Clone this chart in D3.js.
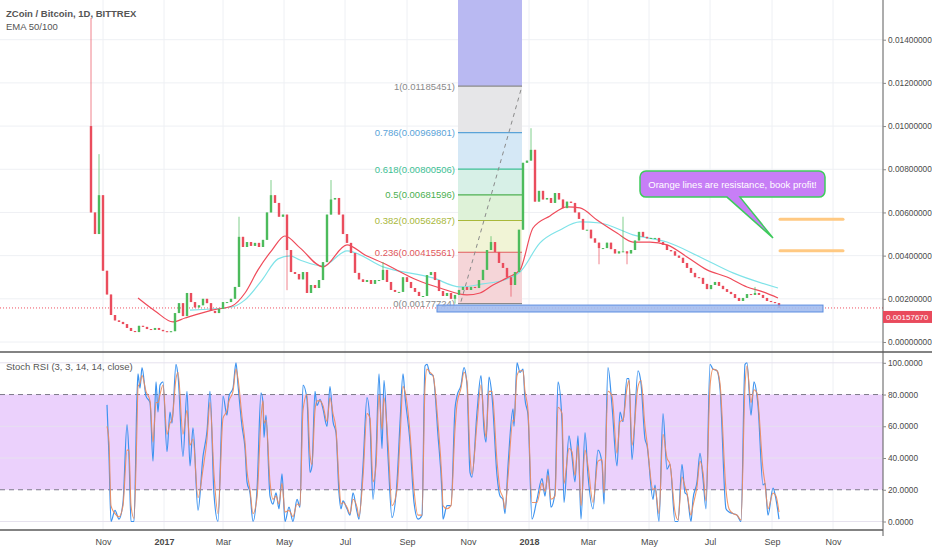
<!DOCTYPE html>
<html lang="en">
<head>
<meta charset="utf-8" />
<title>ZCoin / Bitcoin, 1D, BITTREX</title>
<script src="https://cdn.jsdelivr.net/npm/d3@7"></script>
<style>
body { margin: 0; background: #fff; }
text { font-family: "Liberation Sans", Arial, sans-serif; fill: #4a4a4a; }
</style>
</head>
<body>
<script>

// all days are counted from 2016-11-01
// candles: one every 4 days, open = previous close
var candleStartDay = -12;
var candleStep = 4;
var firstOpen = 0.0100;
var closes = [
  0.0060, 0.0050, 0.0068, 0.0033, 0.0022, 0.00125, 0.0010, 0.00093, 0.00083, 0.00065,
  0.00051, 0.00046, 0.00075, 0.0007, 0.0006, 0.00056, 0.00065, 0.00056, 0.0005, 0.00046,
  0.0005, 0.00134, 0.0018, 0.0012, 0.00227, 0.00185, 0.0016, 0.0017, 0.002, 0.0018,
  0.00144, 0.00134, 0.00153, 0.00185, 0.00185, 0.002, 0.00255, 0.00487, 0.0044, 0.00463,
  0.00445, 0.00459, 0.0044, 0.00473, 0.006, 0.0068, 0.00644, 0.0058, 0.0059, 0.00426,
  0.00324, 0.00315, 0.0029, 0.00324, 0.00227, 0.00264, 0.0025, 0.00287, 0.0037, 0.0059,
  0.0066, 0.00667, 0.0059, 0.005, 0.00459, 0.00412, 0.0032, 0.0029, 0.00278, 0.00287,
  0.00269, 0.00287, 0.00287, 0.00334, 0.00278, 0.00241, 0.00232, 0.00232, 0.003, 0.00278,
  0.0025, 0.00232, 0.00213, 0.00213, 0.0031, 0.00324, 0.00287, 0.00236, 0.00213, 0.00227,
  0.002, 0.00218, 0.00241, 0.00255, 0.00241, 0.00255, 0.0025, 0.00287, 0.00334, 0.00426,
  0.00463, 0.00417, 0.00366, 0.00343, 0.003, 0.00264, 0.00324, 0.0052, 0.0083, 0.0084,
  0.0089, 0.0065, 0.007, 0.0066, 0.00667, 0.00644, 0.0069, 0.0066, 0.0062, 0.0065,
  0.00644, 0.006, 0.0057, 0.0052, 0.0052, 0.0048, 0.0046, 0.00435, 0.00435, 0.0046,
  0.0043, 0.0041, 0.0042, 0.0042, 0.0041, 0.00426, 0.0047, 0.0051, 0.00487, 0.0048,
  0.00482, 0.00482, 0.00463, 0.0045, 0.00426, 0.0042, 0.004, 0.0039, 0.00366, 0.00343,
  0.0032, 0.003, 0.00297, 0.00269, 0.00245, 0.00264, 0.00278, 0.0026, 0.00245, 0.00232,
  0.00222, 0.00204, 0.0019, 0.00204, 0.00222, 0.00218, 0.00227, 0.00218, 0.00204, 0.0019,
  0.00185, 0.0018, 0.0015767
];
// long wicks that stick out of the bodies
var wickDays = [-12, -4, 136, 168, 184, 228, 280, 352, 388, 408, 428, 496, 520, 524, 652];
var wickVals = [0.0150, 0.0087, 0.0058, 0.0075, 0.0024, 0.0075, 0.0037, 0.00178, 0.0049, 0.0021, 0.0099, 0.0036, 0.0058, 0.0036, 0.00255];

var ema50Days = [35, 52, 70, 82, 109, 129, 142, 155, 169, 182, 197, 220, 244, 262, 280, 314, 337, 364, 377, 390,
  404, 417, 430, 447, 464, 477, 494, 514, 530, 547, 564, 584, 604, 624, 644, 660, 675];
var ema50Vals = [0.00204, 0.00144, 0.00093, 0.00111, 0.00148, 0.00167, 0.00227, 0.00334, 0.00426, 0.00491,
  0.00436, 0.00348, 0.00450, 0.00403, 0.00366, 0.00287, 0.0025, 0.00218, 0.00227, 0.00264,
  0.00297, 0.00334, 0.00528, 0.00584, 0.00626, 0.00621, 0.00565, 0.00505, 0.00463, 0.00463,
  0.0045, 0.00394, 0.00334, 0.00301, 0.00255, 0.00232, 0.00204];
var ema100Days = [87, 129, 142, 159, 175, 187, 197, 220, 244, 280, 330, 357, 380, 404, 417, 437, 457, 477, 497,
  530, 564, 597, 630, 675];
var ema100Vals = [0.00148, 0.00162, 0.00195, 0.00287, 0.00385, 0.00399, 0.0038, 0.00352, 0.00422, 0.00348,
  0.00297, 0.00255, 0.00269, 0.00292, 0.00324, 0.00459, 0.00519, 0.00556, 0.00551,
  0.00496, 0.00463, 0.00394, 0.0032, 0.0025];

// Stoch RSI turning points
var rsiDays = [4, 6, 8, 12, 16, 20, 24, 26, 28, 31, 34, 35, 37, 39, 43, 47, 50, 53, 55, 57,
  60, 64, 67, 69, 73, 75, 80, 84, 87, 90, 95, 100, 104, 107, 111, 115, 120, 124, 126, 130,
  133, 135, 139, 142, 144, 147, 150, 154, 158, 160, 161, 163, 167, 170, 173, 176, 179, 182, 186, 190,
  194, 197, 200, 204, 207, 209, 212, 214, 217, 220, 224, 227, 230, 233, 236, 238, 240, 244, 247, 250,
  254, 256, 260, 264, 267, 270, 273, 276, 279, 281, 285, 289, 294, 297, 300, 302, 307, 311, 315, 319,
  322, 324, 327, 330, 335, 339, 340, 344, 348, 352, 354, 358, 361, 364, 367, 369, 374, 378, 381, 383,
  386, 389, 394, 397, 400, 402, 405, 410, 411, 414, 417, 420, 422, 425, 429, 434, 439, 442, 445, 448,
  452, 455, 459, 461, 466, 469, 472, 475, 478, 482, 485, 490, 495, 499, 501, 505, 509, 514, 517, 520,
  524, 526, 529, 535, 538, 542, 544, 550, 552, 556, 560, 564, 567, 572, 575, 579, 582, 584, 588, 590,
  594, 597, 600, 603, 607, 610, 614, 617, 623, 626, 630, 634, 638, 642, 644, 648, 651, 654, 655, 660,
  662, 665, 670, 673, 676];
var rsiK = [73.5, 41, 0, 7, 1.5, 12, 61, 41, 0, 0, 79, 93, 84, 97, 79, 75, 38, 88, 69, 86,
  88, 44, 69, 62, 99, 92, 41, 82, 35, 59, 7, 41, 57, 82, 17, 0, 79, 67, 79, 84,
  100, 86, 60, 46, 25, 18, 0, 20, 81, 75, 53, 67, 16, 11, 18, 8, 30, 0, 9, 0,
  14, 9, 86, 77, 31, 35, 82, 73, 77, 71, 60, 85, 63, 56, 18, 8, 13, 8, 4, 18,
  6, 1.5, 35, 78, 62, 14, 41, 93, 46, 89, 41, 2.5, 25, 62, 93, 79, 50, 12, 1.5, 4,
  98, 99, 93, 92, 54, 18, 1.5, 10, 10, 71, 79, 86, 97, 86, 31, 28, 69, 92, 58, 50,
  91, 79, 29, 16, 14, 5, 35, 71, 60, 100, 94, 96, 77, 67, 1.5, 14, 27, 16, 33, 9,
  18, 88, 63, 12, 54, 41, 25, 54, 1.5, 56, 29, 8, 45, 37, 11, 97, 73, 35, 69, 63,
  90, 90, 39, 95, 87, 52, 48, 14, 23, 0, 68, 33, 36, 0, 0, 36, 18, 17, 0, 14,
  25, 43, 27, 8, 99, 96, 95, 84, 8, 6, 5, 4, 0, 99, 100, 67, 88, 79, 73, 23,
  24, 4, 21, 14, 1.5];
var rsiD = [60, 50, 10, 5, 3, 10, 45, 45, 10, 2, 60, 85, 87, 92, 82, 76, 50, 75, 75, 80,
  86, 55, 62, 64, 90, 94, 55, 70, 48, 52, 15, 33, 52, 75, 30, 5, 65, 70, 76, 82,
  96, 90, 66, 50, 32, 20, 5, 15, 65, 76, 62, 64, 25, 14, 16, 11, 24, 6, 7, 3,
  11, 10, 70, 80, 42, 36, 70, 76, 76, 73, 63, 78, 68, 58, 25, 11, 12, 9, 5, 14,
  9, 3, 28, 68, 65, 25, 35, 80, 58, 78, 50, 10, 20, 52, 85, 82, 56, 20, 4, 4,
  85, 96, 94, 92, 62, 25, 10, 8, 10, 58, 74, 84, 94, 88, 42, 30, 62, 86, 64, 53,
  82, 82, 38, 20, 15, 8, 28, 64, 63, 92, 95, 95, 82, 70, 12, 12, 24, 19, 29, 14,
  16, 72, 68, 24, 46, 44, 29, 48, 10, 45, 35, 12, 38, 39, 18, 82, 79, 43, 63, 64,
  84, 89, 48, 85, 89, 60, 50, 20, 21, 5, 55, 40, 36, 6, 1, 28, 22, 18, 4, 10,
  22, 38, 31, 13, 85, 96, 95, 87, 20, 8, 5, 4, 1, 85, 98, 75, 83, 81, 76, 33,
  24, 8, 18, 16, 6];

var priceTicks = [0, 0.002, 0.004, 0.006, 0.008, 0.010, 0.012, 0.014];
var rsiTicks = [0, 20, 40, 60, 80, 100];
var lastPrice = 0.0015767;

var fibRatios = ["0", "0.236", "0.382", "0.5", "0.618", "0.786", "1"];
var fibPrices = [0.00177724, 0.00415561, 0.00562687, 0.00681596, 0.00800506, 0.00969801, 0.01185451];
var fibLine = ["#8a8a8a", "#e0585c", "#a9b83a", "#4caf50", "#3dbf94", "#5aa3d8", "#8a8a8a"];
var fibFill = ["#f5d5d8", "#f1f4d6", "#def2d8", "#d7f0e7", "#d5e8f6", "#e6e6e8"];
var fibDays = [355, 419];

var supportDays = [334, 720];
var supportPrices = [0.00139, 0.00171];
var resistanceDays = [677, 740];
var resistancePrices = [0.00568, 0.00423];
var callout = {
  text: "Orange lines are resistance, book profit!",
  days: [537, 722], prices: [0.00792, 0.00671],
  tailDays: [624, 637], tipDay: 670, tipPrice: 0.00482
};

var w = 932, h = 550;
var axisX = 883, paneBottom = 352, timeY = 530;
var origin = new Date(Date.UTC(2016, 10, 1));

var x = d3.scaleUtc()
    .domain([origin, new Date(Date.UTC(2018, 10, 1))])
    .range([103, 833]);
function dx(d) { return x(d3.utcDay.offset(origin, d)); }
var y = d3.scaleLinear().domain([0, 0.014]).range([342, 39.7]);
var yr = d3.scaleLinear().domain([0, 100]).range([521.5, 362.8]);
var months = d3.utcMonth.every(2).range(origin, new Date(Date.UTC(2018, 10, 2)));

var svg = d3.select("body").append("svg")
    .attr("width", w)
    .attr("height", h);

// grid
var grid = svg.append("g").attr("stroke", "#eef0f4").attr("stroke-width", 1);
grid.selectAll("line.h").data(priceTicks).enter().append("line")
    .attr("x1", 0).attr("x2", axisX)
    .attr("y1", function(d) { return y(d); }).attr("y2", function(d) { return y(d); });
grid.selectAll("line.v").data(months).enter().append("line")
    .attr("x1", function(d) { return x(d); }).attr("x2", function(d) { return x(d); })
    .attr("y1", 0).attr("y2", timeY);

// fib retracement
var fx0 = dx(fibDays[0]), fx1 = dx(fibDays[1]);
svg.append("rect")
    .attr("x", fx0).attr("width", fx1 - fx0)
    .attr("y", 0).attr("height", y(fibPrices[6]))
    .attr("fill", "#b9b9f2");
svg.append("g").selectAll("rect").data(fibFill).enter().append("rect")
    .attr("x", fx0).attr("width", fx1 - fx0)
    .attr("y", function(d, i) { return y(fibPrices[i + 1]); })
    .attr("height", function(d, i) { return y(fibPrices[i]) - y(fibPrices[i + 1]); })
    .attr("fill", function(d) { return d; });
svg.append("g").selectAll("line").data(fibPrices).enter().append("line")
    .attr("x1", fx0).attr("x2", fx1)
    .attr("y1", function(d) { return y(d); }).attr("y2", function(d) { return y(d); })
    .attr("stroke", function(d, i) { return fibLine[i]; })
    .attr("stroke-width", 1.2);
svg.append("g").selectAll("text").data(fibPrices).enter().append("text")
    .attr("x", fx0 - 3)
    .attr("y", function(d) { return y(d) + 3.5; })
    .attr("text-anchor", "end")
    .attr("font-size", 9.5)
    .style("fill", function(d, i) { return fibLine[i]; })
    .text(function(d, i) { return fibRatios[i] + "(" + d.toFixed(8) + ")"; });
svg.append("line")
    .attr("x1", fx0 + 3).attr("y1", y(fibPrices[0]) - 2)
    .attr("x2", fx1).attr("y2", y(fibPrices[6]))
    .attr("stroke", "#8a8a8a").attr("stroke-dasharray", "4,4");

// last price line
svg.append("line")
    .attr("x1", 0).attr("x2", axisX)
    .attr("y1", y(lastPrice)).attr("y2", y(lastPrice))
    .attr("stroke", "#ef5060").attr("stroke-dasharray", "1,2");

// EMAs
var emaLine = d3.line()
    .x(function(d) { return dx(d[0]); })
    .y(function(d) { return y(d[1]); })
    .curve(d3.curveMonotoneX);
svg.append("path")
    .attr("d", emaLine(d3.zip(ema100Days, ema100Vals)))
    .attr("fill", "none").attr("stroke", "#7fe3e8").attr("stroke-width", 1.2);
svg.append("path")
    .attr("d", emaLine(d3.zip(ema50Days, ema50Vals)))
    .attr("fill", "none").attr("stroke", "#ef4b5a").attr("stroke-width", 1.2);

// candles
var wickAt = {};
wickDays.forEach(function(d, i) { wickAt[d] = wickVals[i]; });
var candles = closes.map(function(c, i) {
  var day = candleStartDay + i * candleStep;
  var o = i === 0 ? firstOpen : closes[i - 1];
  var ext = wickAt[day] !== undefined ? wickAt[day] : c;
  return { day: day, o: o, c: c,
    hi: Math.max(o, c, ext), lo: Math.min(o, c, ext) };
});
var up = "#4cbb5c", down = "#ea4d5d";
var cg = svg.append("g");
cg.selectAll("line").data(candles).enter().append("line")
    .attr("x1", function(d) { return dx(d.day); }).attr("x2", function(d) { return dx(d.day); })
    .attr("y1", function(d) { return y(d.hi); }).attr("y2", function(d) { return y(d.lo); })
    .attr("stroke", function(d) { return d.c >= d.o ? up : down; })
    .attr("stroke-opacity", 0.7);
cg.selectAll("rect").data(candles).enter().append("rect")
    .attr("x", function(d) { return dx(d.day) - 1.2; })
    .attr("width", 2.4)
    .attr("y", function(d) { return y(Math.max(d.o, d.c)); })
    .attr("height", function(d) { return Math.max(1, Math.abs(y(d.o) - y(d.c))); })
    .attr("fill", function(d) { return d.c >= d.o ? up : down; });

// support zone
svg.append("rect")
    .attr("x", dx(supportDays[0])).attr("width", dx(supportDays[1]) - dx(supportDays[0]))
    .attr("y", y(supportPrices[1])).attr("height", y(supportPrices[0]) - y(supportPrices[1]))
    .attr("fill", "#a3bdee").attr("fill-opacity", 0.9)
    .attr("stroke", "#5b8de0").attr("stroke-width", 1);

// resistance lines
svg.append("g").selectAll("line").data(resistancePrices).enter().append("line")
    .attr("x1", dx(resistanceDays[0])).attr("x2", dx(resistanceDays[1]))
    .attr("y1", function(d) { return y(d); }).attr("y2", function(d) { return y(d); })
    .attr("stroke", "#ffc982").attr("stroke-width", 3).attr("stroke-linecap", "round");

// callout
var bx0 = dx(callout.days[0]), bx1 = dx(callout.days[1]);
var by0 = y(callout.prices[0]), by1 = y(callout.prices[1]), r = 6;
var p = d3.path();
p.moveTo(bx0 + r, by0);
p.lineTo(bx1 - r, by0);
p.arcTo(bx1, by0, bx1, by0 + r, r);
p.lineTo(bx1, by1 - r);
p.arcTo(bx1, by1, bx1 - r, by1, r);
p.lineTo(dx(callout.tailDays[1]), by1);
p.lineTo(dx(callout.tipDay), y(callout.tipPrice));
p.lineTo(dx(callout.tailDays[0]), by1);
p.lineTo(bx0 + r, by1);
p.arcTo(bx0, by1, bx0, by1 - r, r);
p.lineTo(bx0, by0 + r);
p.arcTo(bx0, by0, bx0 + r, by0, r);
p.closePath();
svg.append("path").attr("d", p.toString())
    .attr("fill", "#c77ef6").attr("stroke", "#3ecb5c").attr("stroke-width", 1.5);
svg.append("text")
    .attr("x", (bx0 + bx1) / 2).attr("y", (by0 + by1) / 2 + 3.5)
    .attr("text-anchor", "middle").attr("font-size", 9.5)
    .style("fill", "#ffffff")
    .text(callout.text);

// Stoch RSI pane
svg.append("rect")
    .attr("x", 0).attr("width", axisX)
    .attr("y", yr(80)).attr("height", yr(20) - yr(80))
    .attr("fill", "#ebd1fc");
svg.append("g").selectAll("line").data(rsiTicks.filter(function(d) { return d !== 20 && d !== 80; }))
    .enter().append("line")
    .attr("x1", 0).attr("x2", axisX)
    .attr("y1", function(d) { return yr(d); }).attr("y2", function(d) { return yr(d); })
    .attr("stroke", "#e6e2ee");
svg.append("g").selectAll("line").data([20, 80]).enter().append("line")
    .attr("x1", 0).attr("x2", axisX)
    .attr("y1", function(d) { return yr(d); }).attr("y2", function(d) { return yr(d); })
    .attr("stroke", "#7d7a8a").attr("stroke-dasharray", "5,4");
var rsiLine = d3.line()
    .x(function(d) { return dx(d[0]); })
    .y(function(d) { return yr(d[1]); })
    .curve(d3.curveMonotoneX);
svg.append("path")
    .attr("d", rsiLine(d3.zip(rsiDays, rsiK)))
    .attr("fill", "none").attr("stroke", "#3d93ef").attr("stroke-width", 1.2);
svg.append("path")
    .attr("d", rsiLine(d3.zip(rsiDays, rsiD)))
    .attr("fill", "none").attr("stroke", "#ee8a5a").attr("stroke-width", 1.1)
    .attr("stroke-opacity", 0.9);

// frame
var frame = svg.append("g").attr("stroke", "#5a5a5a");
frame.append("line").attr("x1", 0).attr("x2", w).attr("y1", paneBottom).attr("y2", paneBottom).attr("stroke-width", 1.5);
frame.append("line").attr("x1", 0).attr("x2", axisX).attr("y1", timeY).attr("y2", timeY).attr("stroke-width", 1.5);
frame.append("line").attr("x1", axisX).attr("x2", axisX).attr("y1", 0).attr("y2", timeY + 6).attr("stroke-width", 1);

// axes
var pAxis = svg.append("g").attr("transform", "translate(" + axisX + ",0)")
    .call(d3.axisRight(y).tickValues(priceTicks).tickFormat(d3.format(".8f")).tickSize(3).tickPadding(2));
var rAxis = svg.append("g").attr("transform", "translate(" + axisX + ",0)")
    .call(d3.axisRight(yr).tickValues(rsiTicks).tickFormat(d3.format(".4f")).tickSize(3).tickPadding(2));
var tAxis = svg.append("g").attr("transform", "translate(0," + timeY + ")")
    .call(d3.axisBottom(x).tickValues(months).tickSize(0).tickPadding(9)
      .tickFormat(function(d) { return d.getUTCMonth() === 0 ? d3.utcFormat("%Y")(d) : d3.utcFormat("%b")(d); }));
[pAxis, rAxis, tAxis].forEach(function(g) {
  g.select(".domain").remove();
  g.selectAll(".tick line").attr("stroke", "#8a8a8a");
  g.selectAll("text").attr("font-size", 8.3).style("fill", "#4a4a4a")
      .style("font-family", '"Liberation Sans", Arial, sans-serif');
});
tAxis.selectAll("text").attr("font-size", 9)
    .attr("font-weight", function(d) { return d.getUTCMonth() === 0 ? "bold" : "normal"; });

// last price tag
var tagY = y(lastPrice) + 9;
svg.append("rect")
    .attr("x", axisX).attr("width", w - axisX)
    .attr("y", tagY - 6).attr("height", 12)
    .attr("fill", "#e94a5c");
svg.append("text")
    .attr("x", axisX + 3).attr("y", tagY + 3)
    .attr("font-size", 8).style("fill", "#ffffff")
    .text(lastPrice.toFixed(8));

// titles
svg.append("text").attr("x", 6).attr("y", 17)
    .attr("font-size", 9.5).attr("font-weight", "bold").style("fill", "#555")
    .text("ZCoin / Bitcoin, 1D, BITTREX");
svg.append("text").attr("x", 6).attr("y", 29.5)
    .attr("font-size", 9.5).style("fill", "#555")
    .text("EMA 50/100");
svg.append("text").attr("x", 6).attr("y", 369.5)
    .attr("font-size", 9.5).style("fill", "#555")
    .text("Stoch RSI (3, 3, 14, 14, close)");

</script>
</body>
</html>
